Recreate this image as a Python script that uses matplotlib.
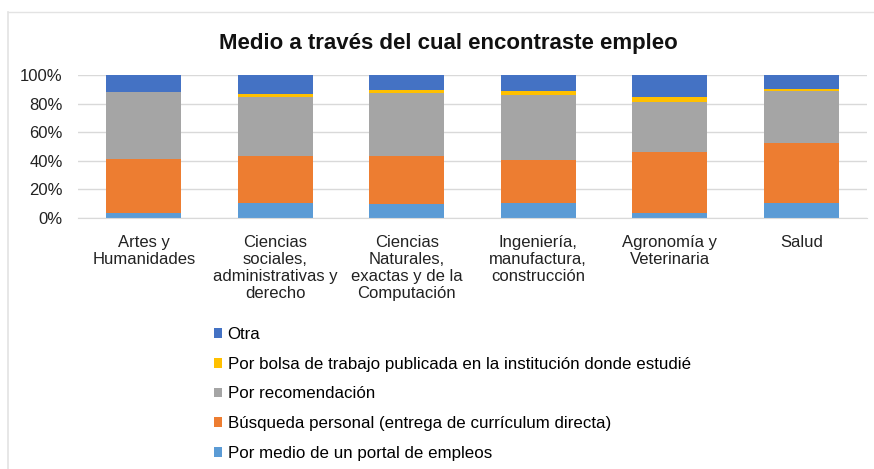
import matplotlib.pyplot as plt
import numpy as np
from matplotlib.lines import Line2D
from matplotlib.patches import Patch
from matplotlib.ticker import PercentFormatter

plt.rcParams['font.family'] = ['Liberation Sans', 'DejaVu Sans']

categories = [
    "Artes y\nHumanidades",
    "Ciencias\nsociales,\nadministrativas y\nderecho",
    "Ciencias\nNaturales,\nexactas y de la\nComputación",
    "Ingeniería,\nmanufactura,\nconstrucción",
    "Agronomía y\nVeterinaria",
    "Salud",
]

# shares in percent, bottom to top
portal = [3.3, 10.3, 9.6, 10.3, 3.3, 10.3]
busqueda = [38.0, 33.1, 34.0, 30.3, 42.9, 42.4]
recomendacion = [46.6, 41.4, 44.0, 45.6, 34.9, 35.9]
bolsa = [0.4, 1.9, 2.1, 2.8, 3.7, 1.6]
otra = [11.7, 13.3, 10.3, 11.0, 15.2, 9.8]

series = [
    ("Por medio de un portal de empleos", portal, "#5B9BD5"),
    ("Búsqueda personal (entrega de currículum directa)", busqueda, "#ED7D31"),
    ("Por recomendación", recomendacion, "#A5A5A5"),
    ("Por bolsa de trabajo publicada en la institución donde estudié", bolsa, "#FFC000"),
    ("Otra", otra, "#4472C4"),
]

W, H = 874, 469
fig = plt.figure(figsize=(W / 100, H / 100), dpi=100)

# light frame of the chart area
fig.add_artist(Line2D([8 / W, 1], [1 - 12 / H, 1 - 12 / H], color="#E3E3E3", lw=1))
fig.add_artist(Line2D([8 / W, 8 / W], [0, 1 - 12 / H], color="#E3E3E3", lw=1.2))

ax = fig.add_axes([78 / W, 1 - 218 / H, 789 / W, 143 / H])

x = np.arange(len(categories))
bottom = np.zeros(len(categories))
handles = []
for label, vals, color in series:
    vals = np.array(vals)
    ax.bar(x, vals, 0.57, bottom=bottom, color=color, zorder=2)
    bottom += vals
    handles.append(Patch(facecolor=color, label=label))

ax.set_xlim(-0.5, len(categories) - 0.5)
ax.set_ylim(0, 100)
ax.set_yticks(range(0, 101, 20))
ax.yaxis.set_major_formatter(PercentFormatter(decimals=0))
ax.grid(axis="y", color="#D9D9D9", lw=1, zorder=0)
for s in ["top", "right", "left"]:
    ax.spines[s].set_visible(False)
ax.spines["bottom"].set_color("#D9D9D9")
ax.set_xticks(x)
ax.set_xticklabels(categories, fontsize=12, color="#222222", linespacing=1.17)
ax.tick_params(axis="x", length=0, pad=12)
ax.tick_params(axis="y", length=0, pad=11, labelsize=12, labelcolor="#222222")

fig.text(448 / W, 1 - 43 / H, "Medio a través del cual encontraste empleo",
         ha="center", va="center", fontsize=16, fontweight="bold", color="#111111")

fig.legend(handles=handles[::-1], loc="upper left",
           bbox_to_anchor=(214 / W, 1 - 327 / H), frameon=False,
           fontsize=12.2, handlelength=0.5, handleheight=0.5,
           handletextpad=0.3, labelspacing=0.87, borderpad=0, borderaxespad=0)

fig.savefig("out.png", dpi=100)
